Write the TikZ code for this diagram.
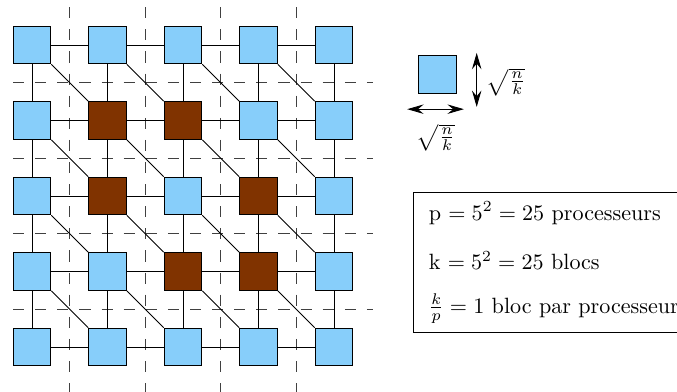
\documentclass[tikz,border=0pt]{standalone}
\usepackage{amsmath}
\usepackage{tikz}
\usepackage{xcolor}
\usetikzlibrary{arrows.meta, positioning}
\definecolor{procblue}{RGB}{135,206,250}
\definecolor{blocbrown}{RGB}{128,51,0}
\tikzstyle{proc}  = [rectangle, minimum size=0.6cm, inner sep=0pt, draw=black, fill=procblue]
\tikzstyle{bloc}  = [proc, fill=blocbrown]
\tikzstyle{link}  = [black, thin]
\tikzstyle{cut}   = [black!75, thin, dash pattern=on 5pt off 5pt]
\tikzstyle{dim}   = [{Stealth[length=2.6mm,width=1.5mm,inset=0.9mm]}-{Stealth[length=2.6mm,width=1.5mm,inset=0.9mm]}, thin]
\tikzstyle{info}  = [anchor=base west, inner sep=0pt]

\begin{document}
\begin{tikzpicture}[x=1.2cm, y=1.2cm]
    \useasboundingbox (-0.424,0.596) rectangle (8.543,-4.583);

    % decoupage en blocs
    \foreach \k in {0,...,3} {
        \draw[cut] (\k+0.5,0.5) -- (\k+0.5,-4.6);
        \draw[cut] (-0.25,-\k-0.5) -- (4.52,-\k-0.5);
    }

    % grille de processeurs
    \foreach \row [count=\j from 0] in {{proc,proc,proc,proc,proc},
                                        {proc,bloc,bloc,proc,proc},
                                        {proc,bloc,proc,bloc,proc},
                                        {proc,proc,bloc,bloc,proc},
                                        {proc,proc,proc,proc,proc}} {
        \foreach \s [count=\i from 0] in \row
            \node (p\i\j) [\s] at (\i,-\j) {};
    }

    \foreach \i [evaluate=\i as \n using int(\i+1)] in {0,...,3} {
        \foreach \j in {0,...,4} {
            \draw[link] (p\i\j) -- (p\n\j);
            \draw[link] (p\j\i) -- (p\j\n);
        }
        \foreach \j [evaluate=\j as \m using int(\j+1)] in {0,...,3}
            \draw[link] (p\i\j.south east) -- (p\n\m.north west);
    }

    % legende
    \node (unit) [proc] at (5.37,-0.39) {};
    \coordinate (vtop) at (5.89,-0.105);
    \coordinate (vbot) at (5.89,-0.82);
    \coordinate (hleft) at (4.97,-0.85);
    \coordinate (hright) at (5.72,-0.85);
    \draw[dim] (vtop) -- (vbot);
    \draw[dim] (hleft) -- (hright);
    \node (vlab) at (6.28,-0.49) {$\sqrt{\frac{n}{k}}$};
    \node (hlab) at (5.35,-1.23) {$\sqrt{\frac{n}{k}}$};

    \node (box) [draw=black, minimum width=4.4cm, minimum height=2.23cm] at (6.89,-2.88) {};
    \node (nbp) [info] at (5.249,-2.318) {p $= 5^2 = 25$ processeurs};
    \node (nbk) [info] at (5.249,-2.98) {k $= 5^2 = 25$ blocs};
    \node (ratio) [info] at (5.249,-3.55) {$\frac{k}{p} = 1$ bloc par processeur};
\end{tikzpicture}
\end{document}
